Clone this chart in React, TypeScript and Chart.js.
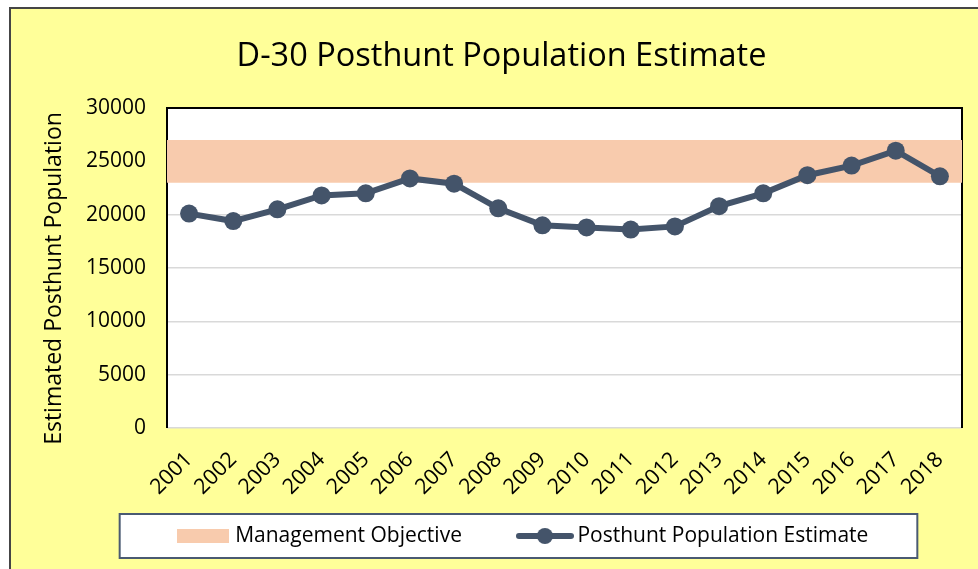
import React, { useEffect, useRef } from "react";
import { Chart, registerables } from "chart.js";

Chart.register(...registerables);

// ---- data ----
const years = [2001, 2002, 2003, 2004, 2005, 2006, 2007, 2008, 2009, 2010, 2011, 2012, 2013, 2014, 2015, 2016, 2017, 2018];
const yearLabels = ["2001", "2002", "2003", "2004", "2005", "2006", "2007", "2008", "2009", "2010", "2011", "2012", "2013", "2014", "2015", "2016", "2017", "2018"];
const populationEstimate = [20100, 19400, 20500, 21800, 22000, 23400, 22900, 20600, 19000, 18800, 18600, 18900, 20800, 22000, 23700, 24600, 26000, 23600];
const objectiveLow = 23000;
const objectiveHigh = 27000;
const yTicks = [0, 5000, 10000, 15000, 20000, 25000, 30000];

const titleText = "D-30 Posthunt Population Estimate";
const yTitleText = "Estimated Posthunt Population";
const bandLabel = "Management Objective";
const lineLabel = "Posthunt Population Estimate";

// ---- styles ----
const LINE_COLOR = "#44546A";
const BAND_COLOR = "#F8CBAD";
const FONT = '"Open Sans", "Liberation Sans", sans-serif';

function makeRectIcon(): HTMLCanvasElement {
  const c = document.createElement("canvas");
  c.width = 52;
  c.height = 14;
  const g = c.getContext("2d")!;
  g.fillStyle = BAND_COLOR;
  g.fillRect(0, 0, 52, 14);
  return c;
}

function makeLineIcon(): HTMLCanvasElement {
  const c = document.createElement("canvas");
  c.width = 58;
  c.height = 18;
  const g = c.getContext("2d")!;
  g.strokeStyle = LINE_COLOR;
  g.lineWidth = 6;
  g.lineCap = "round";
  g.beginPath();
  g.moveTo(3, 9);
  g.lineTo(55, 9);
  g.stroke();
  g.fillStyle = LINE_COLOR;
  g.beginPath();
  g.arc(29, 9, 8, 0, Math.PI * 2);
  g.fill();
  return c;
}

const framePlugin = {
  id: "frame",
  afterLayout(chart: any) {
    const lg = chart.legend;
    if (lg) {
      lg.left += 23;
      lg.right += 23;
    }
    // let the rotated year labels extend below the (short) x-axis box without clipping
    const xs = chart.scales.x;
    if (xs) {
      xs.bottom += 70;
      xs.height += 70;
    }
  },
  beforeDraw(chart: any) {
    const { ctx, chartArea: a, legend } = chart;
    ctx.save();
    ctx.fillStyle = "#ffffff";
    ctx.fillRect(a.left, a.top, a.right - a.left, a.bottom - a.top);
    const hb = legend && legend.legendHitBoxes;
    if (hb && hb.length) {
      const first = hb[0];
      const last = hb[hb.length - 1];
      const cy = first.top + first.height / 2;
      const x0 = first.left - 61;
      const x1 = last.left + last.width + 49;
      ctx.fillStyle = "#ffffff";
      ctx.fillRect(x0, cy - 22, x1 - x0, 44);
      ctx.strokeStyle = "#4A5A72";
      ctx.lineWidth = 2;
      ctx.strokeRect(x0, cy - 22, x1 - x0, 44);
    }
    ctx.restore();
  },
  beforeDatasetsDraw(chart: any) {
    const { ctx, chartArea: a } = chart;
    ctx.save();
    ctx.strokeStyle = "#000000";
    ctx.lineWidth = 2;
    ctx.beginPath();
    ctx.moveTo(a.left, a.bottom);
    ctx.lineTo(a.left, a.top);
    ctx.lineTo(a.right, a.top);
    ctx.lineTo(a.right, a.bottom);
    ctx.stroke();
    ctx.restore();
  },
  afterDraw(chart: any) {
    const { ctx } = chart;
    ctx.save();
    ctx.translate(61, 278.5);
    ctx.rotate(-Math.PI / 2);
    ctx.textAlign = "center";
    ctx.textBaseline = "alphabetic";
    ctx.fillStyle = "#000000";
    ctx.font = `23px ${FONT}`;
    ctx.fillText(yTitleText, 0, 0);
    ctx.restore();
  },
};

export default function App() {
  const canvasRef = useRef<HTMLCanvasElement | null>(null);

  useEffect(() => {
    if (!canvasRef.current) return;
    const rectIcon = makeRectIcon();
    const lineIcon = makeLineIcon();
    const xMin = years[0] - 0.5;
    const xMax = years[years.length - 1] + 0.5;

    const chart = new Chart(canvasRef.current, {
      type: "line",
      data: {
        datasets: [
          {
            label: bandLabel,
            data: [
              { x: xMin, y: objectiveHigh },
              { x: xMax, y: objectiveHigh },
            ],
            fill: { value: objectiveLow },
            backgroundColor: BAND_COLOR,
            borderColor: "rgba(0,0,0,0)",
            borderWidth: 0,
            pointRadius: 0,
            pointHoverRadius: 0,
            order: 1,
          } as any,
          {
            label: lineLabel,
            data: years.map((x, i) => ({ x, y: populationEstimate[i] })),
            borderColor: LINE_COLOR,
            backgroundColor: LINE_COLOR,
            borderWidth: 6,
            pointRadius: 9,
            pointHoverRadius: 9,
            pointBackgroundColor: LINE_COLOR,
            pointBorderWidth: 0,
            fill: false,
            tension: 0,
            order: 0,
          } as any,
        ],
      },
      options: {
        responsive: false,
        animation: false,
        events: [],
        layout: { padding: { left: 41, right: 16, top: 0, bottom: 12.5 } },
        plugins: {
          title: {
            display: true,
            text: titleText,
            color: "#000000",
            font: { family: FONT, size: 32.5, weight: "normal" as any },
            padding: { top: 37, bottom: 32 },
          },
          legend: {
            position: "bottom",
            labels: {
              usePointStyle: true,
              pointStyleWidth: 44,
              padding: 61,
              color: "#000000",
              font: { family: FONT, size: 21 },
              generateLabels: (ch: any) => [
                {
                  text: ch.data.datasets[0].label,
                  pointStyle: rectIcon,
                  fillStyle: BAND_COLOR,
                  strokeStyle: BAND_COLOR,
                  lineWidth: 0,
                  hidden: false,
                  datasetIndex: 0,
                  fontColor: "#000000",
                },
                {
                  text: ch.data.datasets[1].label,
                  pointStyle: lineIcon,
                  fillStyle: LINE_COLOR,
                  strokeStyle: LINE_COLOR,
                  lineWidth: 0,
                  hidden: false,
                  datasetIndex: 1,
                  fontColor: "#000000",
                },
              ],
            },
          },
          tooltip: { enabled: false },
        },
        scales: {
          x: {
            type: "linear",
            min: xMin,
            max: xMax,
            afterBuildTicks: (axis: any) => {
              axis.ticks = years.map((v) => ({ value: v }));
            },
            afterFit: (s: any) => {
              s.height = 36.5;
            },
            ticks: {
              autoSkip: false,
              minRotation: 45,
              maxRotation: 45,
              padding: 19,
              color: "#000000",
              font: { family: FONT, size: 21.5 },
              callback: (v: any) => {
                const i = years.indexOf(Number(v));
                return i >= 0 ? yearLabels[i] : "";
              },
            },
            grid: { display: false, drawTicks: false },
            border: { display: false },
          },
          y: {
            min: 0,
            max: 30000,
            afterBuildTicks: (axis: any) => {
              axis.ticks = yTicks.map((v) => ({ value: v }));
            },
            afterFit: (s: any) => {
              s.width = 126;
            },
            ticks: {
              padding: 21,
              color: "#000000",
              font: { family: FONT, size: 21 },
              callback: (v: any) => String(v),
            },
            grid: { color: "#D9D9D9", lineWidth: 1.5, drawTicks: false },
            border: { display: false },
          },
        },
      },
      plugins: [framePlugin],
    });

    return () => chart.destroy();
  }, []);

  return (
    <div style={{ position: "fixed", left: 0, top: 0, width: 978, height: 569, overflow: "hidden", background: "#ffffff" }}>
      <div
        style={{
          position: "absolute",
          left: 9,
          top: 7,
          width: 1000,
          height: 600,
          background: "#FFFF99",
          border: "2px solid #454545",
        }}
      />
      <canvas
        ref={canvasRef}
        width={978}
        height={569}
        style={{ position: "absolute", left: 0, top: 0, width: 978, height: 569 }}
      />
    </div>
  );
}
